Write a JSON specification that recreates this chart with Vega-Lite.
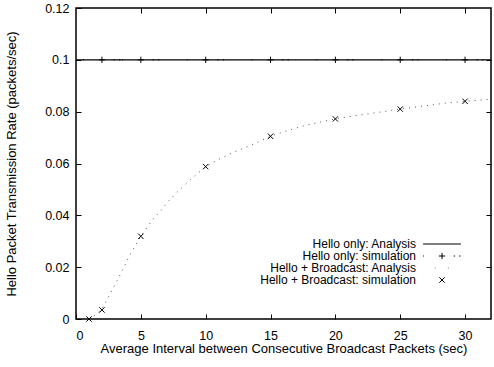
{
  "$schema": "https://vega.github.io/schema/vega-lite/v6.json",
  "width": 415,
  "height": 311,
  "autosize": {"type": "none"},
  "padding": {"left": 76, "top": 8, "right": 3, "bottom": 48},
  "background": "white",
  "config": {
    "view": {"stroke": "black", "strokeWidth": 1.5},
    "font": "Liberation Sans",
    "axis": {"labelFont": "Liberation Sans", "titleFont": "Liberation Sans", "labelFontSize": 12.5, "titleFontSize": 13, "titleFontWeight": "normal", "labelColor": "black", "titleColor": "black", "tickColor": "black", "grid": false, "domain": false},
    "legend": {
      "orient": "none", "legendX": 360, "legendY": 230,
      "title": null, "labelFont": "Liberation Sans", "labelFontSize": 12, "labelColor": "black",
      "labelAlign": "right", "labelOffset": -32, "symbolSize": 81, "rowPadding": 0,
      "symbolStrokeWidth": 1, "symbolFillColor": "transparent"
    }
  },
  "datasets": {
    "hello_line": [{"x": 0, "y": 0.1}, {"x": 32, "y": 0.1}],
    "bc_line": [
      {"x": 1, "y": 0.0}, {"x": 1.5, "y": 0.0015}, {"x": 2, "y": 0.0038}, {"x": 2.5, "y": 0.0085},
      {"x": 3, "y": 0.0132}, {"x": 3.5, "y": 0.018}, {"x": 4, "y": 0.0232}, {"x": 4.5, "y": 0.0278},
      {"x": 5, "y": 0.0319}, {"x": 5.5, "y": 0.0355}, {"x": 6, "y": 0.039}, {"x": 6.5, "y": 0.0415},
      {"x": 7, "y": 0.0448}, {"x": 7.75, "y": 0.0487}, {"x": 8.85, "y": 0.0539}, {"x": 10, "y": 0.0588},
      {"x": 11, "y": 0.0616}, {"x": 12, "y": 0.064}, {"x": 13.4, "y": 0.0669}, {"x": 15, "y": 0.0705},
      {"x": 16, "y": 0.0722}, {"x": 17.6, "y": 0.0746}, {"x": 19, "y": 0.0762}, {"x": 20, "y": 0.0772},
      {"x": 21.5, "y": 0.0784}, {"x": 23.4, "y": 0.0798}, {"x": 25, "y": 0.081}, {"x": 26.5, "y": 0.082},
      {"x": 28.5, "y": 0.0833}, {"x": 30, "y": 0.084}, {"x": 31.8, "y": 0.0847}
    ],
    "points": [
      {"x": 2, "y": 0.1, "series": "Hello only: simulation"},
      {"x": 5, "y": 0.1, "series": "Hello only: simulation"},
      {"x": 10, "y": 0.1, "series": "Hello only: simulation"},
      {"x": 15, "y": 0.1, "series": "Hello only: simulation"},
      {"x": 20, "y": 0.1, "series": "Hello only: simulation"},
      {"x": 25, "y": 0.1, "series": "Hello only: simulation"},
      {"x": 30, "y": 0.1, "series": "Hello only: simulation"},
      {"x": 1, "y": 0.0, "series": "Hello + Broadcast: simulation"},
      {"x": 2, "y": 0.0035, "series": "Hello + Broadcast: simulation"},
      {"x": 5, "y": 0.0319, "series": "Hello + Broadcast: simulation"},
      {"x": 10, "y": 0.0588, "series": "Hello + Broadcast: simulation"},
      {"x": 15, "y": 0.0705, "series": "Hello + Broadcast: simulation"},
      {"x": 20, "y": 0.0772, "series": "Hello + Broadcast: simulation"},
      {"x": 25, "y": 0.081, "series": "Hello + Broadcast: simulation"},
      {"x": 30, "y": 0.084, "series": "Hello + Broadcast: simulation"}
    ]
  },
  "resolve": {"axis": {"x": "independent", "y": "independent"}},
  "layer": [
    {
      "data": {"name": "hello_line"},
      "mark": {"type": "line", "stroke": "black", "strokeWidth": 1.2},
      "encoding": {
        "x": {"field": "x", "type": "quantitative", "scale": {"domain": [0, 32], "nice": false, "zero": false},
              "axis": {"values": [0, 5, 10, 15, 20, 25, 30], "format": "d", "tickSize": -5, "labelPadding": 15, "title": "Average Interval between Consecutive Broadcast Packets (sec)", "titlePadding": 1}},
        "y": {"field": "y", "type": "quantitative", "scale": {"domain": [0, 0.12], "nice": false},
              "axis": {"values": [0, 0.02, 0.04, 0.06, 0.08, 0.1, 0.12], "format": ".2~f", "tickSize": -5, "labelPadding": 12, "title": "Hello Packet Transmission Rate (packets/sec)", "titlePadding": 26}}
      }
    },
    {
      "data": {"name": "bc_line"},
      "mark": {"type": "line", "stroke": "#555", "strokeWidth": 1, "strokeDash": [1, 5]},
      "encoding": {
        "x": {"field": "x", "type": "quantitative", "axis": {"orient": "top", "values": [5, 10, 15, 20, 25, 30], "labels": false, "title": null, "tickSize": -5}},
        "y": {"field": "y", "type": "quantitative", "axis": {"orient": "right", "values": [0.02, 0.04, 0.06, 0.08, 0.1], "labels": false, "title": null, "tickSize": -5}}
      }
    },
    {
      "data": {"name": "points"},
      "mark": {"type": "point", "filled": false, "size": 81, "strokeWidth": 1, "opacity": 1},
      "encoding": {
        "x": {"field": "x", "type": "quantitative", "axis": null},
        "y": {"field": "y", "type": "quantitative", "axis": null},
        "shape": {"field": "series", "type": "nominal",
          "scale": {"domain": ["Hello only: Analysis", "Hello only: simulation", "Hello + Broadcast: Analysis", "Hello + Broadcast: simulation"],
                    "range": ["M-4.2,0L4.2,0", "M-4.2,0L-4,0M-0.7,0L0.7,0M0,-0.7L0,0.7M2.6,0L2.9,0M3.8,0L4.1,0", "M-1.6,0L-1.4,0M1.3,0L1.5,0", "M-0.6,-0.6L0.6,0.6M-0.6,0.6L0.6,-0.6"]}},
        "color": {"field": "series", "type": "nominal",
          "scale": {"domain": ["Hello only: Analysis", "Hello only: simulation", "Hello + Broadcast: Analysis", "Hello + Broadcast: simulation"],
                    "range": ["black", "black", "#777", "black"]}}
      }
    }
  ]
}
